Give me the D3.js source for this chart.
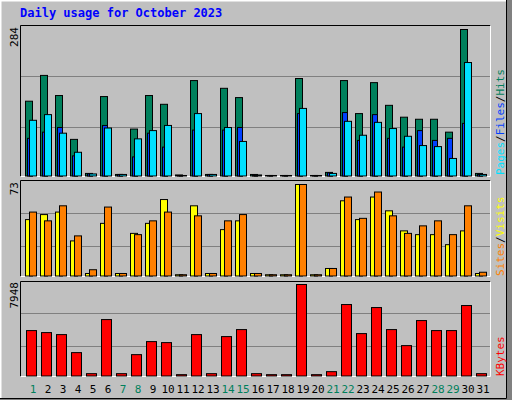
<!DOCTYPE html><html><head><meta charset="utf-8">
<script src="https://cdn.jsdelivr.net/npm/d3@7"></script>
<style>body{margin:0;background:#fff}svg{display:block}text{font-family:"DejaVu Sans Mono",monospace}</style>
</head><body><svg id="c" width="512" height="400"></svg>
<script>
const days = d3.range(1,32);
const weekend = [1,7,8,14,15,21,22,28,29];
const hits  = [145,195,156,71,5,154,3,91,156,139,2,185,3,170,152,3,1,1,189,1,7,185,121,181,137,114,110,110,85,284,5];
const files = [73,85,94,39,4,98,3,37,83,56,1,89,3,89,94,2,1,1,121,1,6,123,69,119,73,56,88,69,73,102,3];
const pages = [108,119,83,46,4,93,3,72,88,98,1,121,3,94,67,2,1,1,131,1,5,106,79,104,92,77,59,57,34,220,3];
const sites = [45,49,51,28,2,42,2,34,42,61,1,56,2,37,44,2,1,1,73,1,6,60,45,63,52,36,33,33,25,36,2];
const visits= [51,44,56,32,5,55,2,33,44,51,1,48,2,44,49,2,1,1,73,1,6,63,46,67,48,34,40,44,33,56,3];
const kbytes= [3945,3771,3597,2031,203,4902,203,1856,2988,2901,116,3597,203,3423,4032,203,116,116,7948,116,377,6208,3684,5946,4032,2640,4815,3945,3945,6121,203];

const svg = d3.select("#c");
// outer frame
svg.append("rect").attr("x",0).attr("y",0).attr("width",512).attr("height",400).attr("fill","#C0C0C0");
svg.append("path").attr("d","M0.5,399.5V0.5H511.5").attr("stroke","#fff").attr("fill","none").attr("stroke-width",2);
svg.append("path").attr("d","M0,398.5H506.5V0").attr("stroke","#000").attr("fill","none");
svg.append("rect").attr("x",507).attr("y",0).attr("width",5).attr("height",400).attr("fill","#808080");
svg.append("rect").attr("x",0).attr("y",399).attr("width",512).attr("height",1).attr("fill","#808080");

svg.append("text").attr("x",20).attr("y",17).text("Daily usage for October 2023")
  .attr("font-size",12).attr("font-weight","bold").attr("fill","#0000FF");

const x0 = d3.scaleLinear().domain([1,31]).range([25,475]);
const panels = [
  {top:25,bot:177,maxTop:29,max:284,label:"284"},
  {top:180,bot:277,maxTop:184,max:73,label:"73"},
  {top:281,bot:377,maxTop:284,max:7948,label:"7948"}
];
panels.forEach(p=>{
  const h=p.bot-p.top;
  svg.append("rect").attr("x",20.5).attr("y",p.top+0.5).attr("width",470).attr("height",h-1).attr("fill","#C0C0C0");
  [1/3,2/3].forEach(f=>{
    const gy=Math.round(p.bot-1-(p.bot-1-p.maxTop)*f*(p.max===284?1:1))+0.5;
  });
  svg.append("path").attr("d",`M20.5,${p.bot-0.5}V${p.top+0.5}H490.5`).attr("stroke","#000").attr("fill","none");
  svg.append("path").attr("d",`M20.5,${p.bot-0.5}H490.5V${p.top+0.5}`).attr("stroke","#fff").attr("fill","none");
  svg.append("text").attr("transform",`translate(18,${p.maxTop-2}) rotate(-90)`).attr("text-anchor","end")
    .attr("font-size",11).attr("fill","#000").text(p.label);
});
// grid lines
[[76.5,127.5],[213.5,246.5],[313.5,346.5]].forEach(g=>g.forEach(gy=>{
  svg.append("line").attr("x1",21).attr("x2",490).attr("y1",gy).attr("y2",gy).attr("stroke","#808080");
}));

function bars(data,scale,dx,w,color){
  svg.append("g").selectAll("rect").data(data).enter().append("rect")
    .attr("x",(d,i)=>x0(days[i])+dx+0.5).attr("width",w)
    .attr("y",d=>scale(d)+0.5).attr("height",d=>Math.max(0,scale(0)-scale(d)))
    .attr("fill",color).attr("stroke","#000");
}
const yT = d3.scaleLinear().domain([0,284]).range([175.5,29]);
const yM = d3.scaleLinear().domain([0,73]).range([275.5,184]);
const yB = d3.scaleLinear().domain([0,7948]).range([375.5,284]);
bars(hits,yT,0,7,"#00805C");
bars(files,yT,2,5,"#0040FF");
bars(pages,yT,4,7,"#00E0FF");
bars(sites,yM,0,7,"#FFFF00");
bars(visits,yM,4,7,"#FF8000");
bars(kbytes,yB,1,10,"#FF0000");

// x labels
svg.append("g").selectAll("text").data(days).enter().append("text")
  .attr("x",d=>x0(d)+8).attr("y",393).attr("text-anchor","middle").attr("font-size",11)
  .attr("fill",d=>weekend.includes(d)?"#00805C":"#000").text(d=>d);

function sideLabel(yBottom,parts){
  const t=svg.append("text").attr("transform",`translate(504,${yBottom}) rotate(-90)`).attr("font-size",11);
  parts.forEach(([s,c])=>t.append("tspan").attr("fill",c).text(s));
}
sideLabel(175,[["Pages","#00E0FF"],["/","#000"],["Files","#0040FF"],["/","#000"],["Hits","#00805C"]]);
sideLabel(276,[["Sites","#FF8000"],["/","#000"],["Visits","#FFFF00"]]);
sideLabel(376,[["KBytes","#FF0000"]]);
</script></body></html>
